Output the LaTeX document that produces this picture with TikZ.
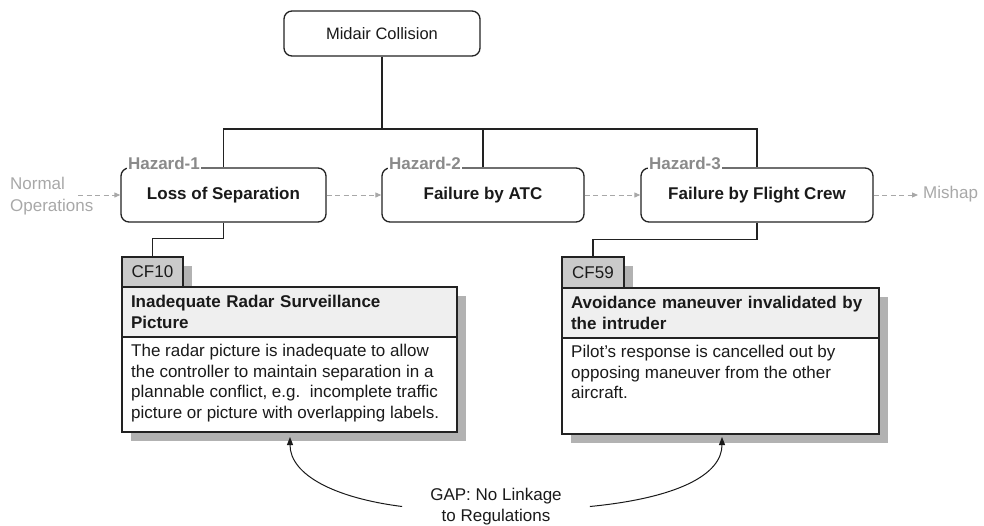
\documentclass[tikz,border=0pt]{standalone}
\usepackage{fontspec}
\setmainfont{Liberation Sans}
\usetikzlibrary{arrows.meta,shadows}

\definecolor{linec}{HTML}{222222}
\definecolor{inkc}{HTML}{1A1A1A}
\definecolor{hazgrey}{HTML}{8A8A8A}
\definecolor{flowgrey}{HTML}{A8A8A8}
\definecolor{tabfill}{HTML}{CACACA}
\definecolor{titlefill}{HTML}{EFEFEF}
\definecolor{shadowc}{HTML}{B2B2B2}

\newcommand{\regfont}{\fontsize{17}{20.6}\selectfont}
\newcommand{\midfont}{\fontsize{16.5}{20}\selectfont}

\tikzset{
  conn/.style={draw=linec, line width=1.4pt},
  roundbox/.style={draw=linec, line width=1.3pt, rounded corners=8pt, fill=white,
    minimum height=54pt, text=inkc, font=\regfont\bfseries},
  hazlabel/.style={fill=white, text=hazgrey, font=\regfont\bfseries,
    inner xsep=1.5pt, inner ysep=1pt, anchor=west},
  flow/.style={draw=flowgrey, line width=1pt, dash pattern=on 5pt off 3.5pt,
    -{Triangle[length=6pt,width=5pt,fill=flowgrey]}},
  greytext/.style={text=flowgrey, font=\regfont, inner sep=0pt},
  cfshadow/.style={drop shadow={shadow xshift=9pt, shadow yshift=-9pt,
    fill=shadowc, opacity=1}},
  tabbox/.style={draw=linec, line width=1.3pt, fill=tabfill, outer sep=0pt,
    text=inkc, font=\regfont, cfshadow},
  titlebox/.style={draw=linec, line width=1.3pt, fill=titlefill, outer sep=0pt,
    text=inkc, font=\regfont\bfseries, align=left, inner xsep=9pt, cfshadow},
  bodybox/.style={draw=linec, line width=1.3pt, fill=white, outer sep=0pt, cfshadow},
  bodytext/.style={text=inkc, font=\regfont, align=left, inner sep=0pt, anchor=north west},
  gaparrow/.style={draw=inkc, line width=1pt, -{Triangle[length=8pt,width=6pt]}},
}

\begin{document}
\begin{tikzpicture}[x=1pt,y=-1pt]
\useasboundingbox (0,0) rectangle (984,525);

% top event and hazards
\node[roundbox, minimum width=196pt, minimum height=45pt, font=\midfont] (mid) at (382,33.5) {Midair Collision};
\node[roundbox, minimum width=205pt] (h1) at (223.5,195) {Loss of Separation};
\node[roundbox, minimum width=202pt] (h2) at (483,195) {Failure by ATC};
\node[roundbox, minimum width=232pt] (h3) at (757,195) {Failure by Flight Crew};

% tree connectors
\coordinate (bus) at (0,129);
\draw[conn] (mid.south) -- (mid.south |- bus);
\draw[conn] (h1.north) -- (h1.north |- bus) -- (h3.north |- bus) -- (h3.north);
\draw[conn] (h2.north) -- (h2.north |- bus);

% hazard tags sitting on the box outlines
\node[hazlabel] (l1) at ([shift={(6,-4)}]h1.north west) {Hazard-1};
\node[hazlabel] (l2) at ([shift={(6,-4)}]h2.north west) {Hazard-2};
\node[hazlabel] (l3) at ([shift={(7,-4)}]h3.north west) {Hazard-3};

% scenario flow
\node[greytext, anchor=west, align=left, font=\fontsize{17}{22}\selectfont] (normal) at (10,196) {Normal\\Operations};
\node[greytext, anchor=west] (mishap) at (923,194) {Mishap};
\coordinate (flowin) at (78,195);
\coordinate (flowout) at (918,195);
\draw[flow] (flowin) -- (h1.west);
\draw[flow] (h1.east) -- (h2.west);
\draw[flow] (h2.east) -- (h3.west);
\draw[flow] (h3.east) -- (flowout);

% contributing factor CF10
\node[tabbox, minimum width=61pt, minimum height=30pt] (cf10tab) at (152.5,272) {CF10};
\node[titlebox, text width=317pt, minimum height=50pt, anchor=north west] (cf10title) at (cf10tab.south west)
  {Inadequate Radar Surveillance\\Picture};
\node[bodybox, minimum width=335pt, minimum height=95pt, anchor=north west] (cf10body) at (cf10title.south west) {};
\node[bodytext] (cf10text) at ([shift={(9,7)}]cf10body.north west)
  {The radar picture is inadequate to allow\\the controller to maintain separation in a\\plannable conflict, e.g.\ \ incomplete traffic\\picture or picture with overlapping labels.};

% contributing factor CF59
\node[tabbox, minimum width=62pt, minimum height=31pt] (cf59tab) at (593,272.5) {CF59};
\node[titlebox, text width=299pt, minimum height=50pt, anchor=north west] (cf59title) at (cf59tab.south west)
  {Avoidance maneuver invalidated by\\the intruder};
\node[bodybox, minimum width=317pt, minimum height=96pt, anchor=north west] (cf59body) at (cf59title.south west) {};
\node[bodytext] (cf59text) at ([shift={(9,7)}]cf59body.north west)
  {Pilot{\char"27}s response is cancelled out by\\opposing maneuver from the other\\aircraft.};

% hazards to contributing factors
\draw[conn] (h1.south) -- ++(0,16) -| (cf10tab.north);
\draw[conn] (h3.south) -- ++(0,17) -| (cf59tab.north);

% gap annotation
\node[text=inkc, font=\regfont, align=center, inner xsep=28pt, inner ysep=0pt] (gap) at (496,506.5)
  {GAP: No Linkage\\to Regulations};
\coordinate (tipL) at (290,437);
\coordinate (tipR) at (722,437);
\draw[gaparrow] (gap.west) .. controls (335,498) and (290,475) .. (tipL);
\draw[gaparrow] (gap.east) .. controls (677,498) and (722,475) .. (tipR);
\end{tikzpicture}
\end{document}
